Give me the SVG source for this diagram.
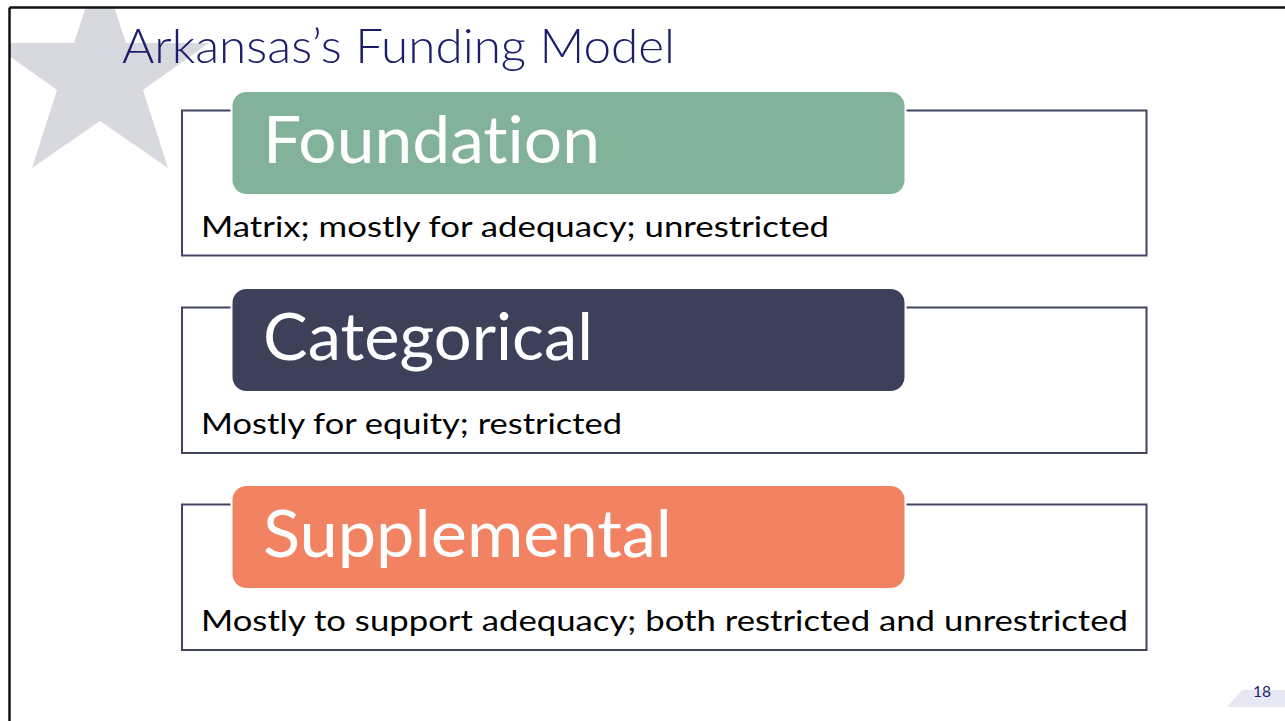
<svg xmlns="http://www.w3.org/2000/svg" width="1285" height="721" viewBox="0 0 1285 721">
  <style>
    text { font-variant-ligatures: none; font-feature-settings: "liga" 0, "clig" 0; }
    .outline { fill: #ffffff; stroke: #42455E; stroke-width: 2; }
    .head { stroke: #ffffff; stroke-width: 2; }
    .headtxt { font-family: Lato, "Open Sans", sans-serif; font-size: 65px; fill: #ffffff; }
    .desc { font-family: Lato, "Open Sans", sans-serif; font-size: 29px; fill: #000000; }
    .title { font-family: Lato, "Open Sans", sans-serif; font-weight: 300; font-size: 47.5px; fill: #1B1C6B; }
  </style>
  <defs>
    <clipPath id="slide">
      <rect x="9" y="8" width="1276" height="700"/>
    </clipPath>
  </defs>
  <rect x="0" y="0" width="1285" height="721" fill="#ffffff"/>
  <g id="star" clip-path="url(#slide)">
    <polygon fill="#D8D9DF" points="100,-36 126,43 209,43 143,90 168,168 100,121 32,168 57,90 -9,43 74,43"/>
  </g>
  <g id="page-corner">
    <polygon fill="#E8E8F5" points="1242,690 1285,690 1285,707 1227,707"/>
    <text x="1253" y="697" font-family="Lato, 'Open Sans', sans-serif" font-size="16" fill="#1B1C6B" textLength="18" lengthAdjust="spacingAndGlyphs">18</text>
  </g>
  <g id="border" stroke="#111111" stroke-width="2.5" fill="none">
    <line x1="9.5" y1="7.5" x2="1285" y2="7.5"/>
    <line x1="9.5" y1="7.5" x2="9.5" y2="721"/>
  </g>
  <g id="title">
    <text class="title" x="122" y="63" textLength="553" lengthAdjust="spacingAndGlyphs">Arkansas’s Funding Model</text>
  </g>
  <g id="connectors"></g>
  <g id="foundation">
    <rect class="outline" x="182" y="110.5" width="964.5" height="145"/>
    <rect class="head" x="231.5" y="91" width="674" height="104" rx="15" ry="15" fill="#82B39A"/>
    <text class="headtxt" x="263" y="163" textLength="337" lengthAdjust="spacingAndGlyphs">Foundation</text>
    <text class="desc" x="201" y="237" textLength="628" lengthAdjust="spacingAndGlyphs">Matrix; mostly for adequacy; unrestricted</text>
  </g>
  <g id="categorical">
    <rect class="outline" x="182" y="307.5" width="964.5" height="145.5"/>
    <rect class="head" x="231.5" y="288" width="674" height="104" rx="15" ry="15" fill="#3D4059"/>
    <text class="headtxt" x="263" y="360" textLength="330" lengthAdjust="spacingAndGlyphs">Categorical</text>
    <text class="desc" x="201" y="434" textLength="421" lengthAdjust="spacingAndGlyphs">Mostly for equity; restricted</text>
  </g>
  <g id="supplemental">
    <rect class="outline" x="182" y="504.5" width="964.5" height="145.5"/>
    <rect class="head" x="231.5" y="485" width="674" height="104" rx="15" ry="15" fill="#F18363"/>
    <text class="headtxt" x="263" y="557" textLength="409" lengthAdjust="spacingAndGlyphs">Supplemental</text>
    <text class="desc" x="201" y="631" textLength="927" lengthAdjust="spacingAndGlyphs">Mostly to support adequacy; both restricted and unrestricted</text>
  </g>
</svg>
